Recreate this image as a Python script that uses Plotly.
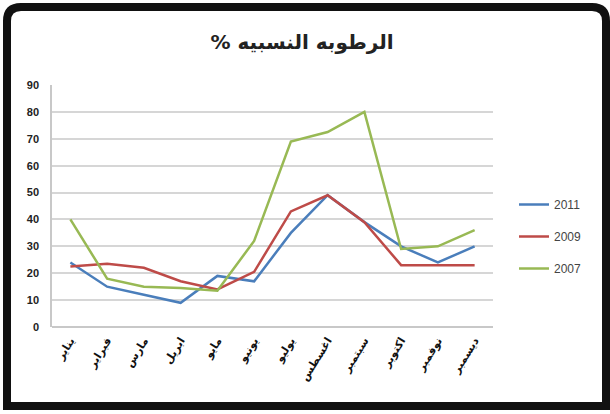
import plotly.graph_objects as go

# months (x categories)
months = ['يناير', 'فبراير', 'مارس', 'ابريل', 'مايو', 'يونيو',
          'يوليو', 'اغسطس', 'سبتمبر', 'اكتوبر', 'نوفمبر', 'ديسمبر']

# relative humidity % per year
h2011 = [24, 15, 12, 9, 19, 17, 35, 49, 39, 30, 24, 30]
h2009 = [22.5, 23.5, 22, 17, 14, 20.5, 43, 49, 39, 23, 23, 23]
h2007 = [40, 18, 15, 14.5, 13.5, 32, 69, 72.5, 80, 29, 30, 36]

y_ticks = [0, 10, 20, 30, 40, 50, 60, 70, 80, 90]

colors = {'2011': '#4a7ebb', '2009': '#be4b48', '2007': '#98b954'}

W, H = 610, 414
L, R, T, B = 52, 117, 85, 87


def px(x):
    # pixel x -> paper x
    return (x - L) / (W - L - R)


def py(y):
    # pixel y -> paper y
    return (H - B - y) / (H - T - B)


fig = go.Figure()
for name, vals in [('2011', h2011), ('2009', h2009), ('2007', h2007)]:
    fig.add_trace(go.Scatter(x=months, y=vals, name=name, mode='lines',
                             legendgroup=name,
                             line=dict(color=colors[name], width=2.5)))

# black frame around the chart (slightly rounded top corners)
x0, x1, y0, y1, r = 7, 606, 7, 406, 14
frame = (f"M {px(x0)},{py(y1)} L {px(x0)},{py(y0 + r)} "
         f"Q {px(x0)},{py(y0)} {px(x0 + r)},{py(y0)} "
         f"L {px(x1 - r)},{py(y0)} Q {px(x1)},{py(y0)} {px(x1)},{py(y0 + r)} "
         f"L {px(x1)},{py(y1)} Z")

fig.update_layout(
    width=W, height=H, autosize=False,
    margin=dict(l=L, r=R, t=T, b=B),
    paper_bgcolor='white', plot_bgcolor='white',
    font=dict(family='DejaVu Sans, Liberation Sans, Arial', color='#333333'),
    # RLM keeps the % sign on the left as in right-to-left text
    title=dict(text='<b>الرطوبه النسبيه %\u200f</b>', xref='container',
               x=302 / W, xanchor='center',
               y=1 - 42 / H, yanchor='middle',
               font=dict(size=20, color='#222222', family='DejaVu Sans')),
    xaxis=dict(showgrid=False, showline=False, zeroline=False,
               tickangle=-58, ticks='', range=[-0.5, 11.5],
               ticklabelstandoff=4,
               tickfont=dict(size=11, color='#111111', family='DejaVu Sans',
                             weight='bold')),
    yaxis=dict(range=[0, 90], tickvals=y_ticks, showgrid=True,
               gridcolor='#d6d6d6', gridwidth=1.5, zeroline=True,
               zerolinecolor='#c8c8c8', zerolinewidth=1.5,
               showline=True, linecolor='#c8c8c8', linewidth=1.5,
               ticks='', ticklabelstandoff=9,
               tickfont=dict(size=11, color='#222222', family='Liberation Sans',
                             weight='bold')),
    legend=dict(x=px(514), xanchor='left', y=py(190), yanchor='top',
                tracegroupgap=13, bgcolor='rgba(0,0,0,0)',
                font=dict(size=12, color='#444444', family='Liberation Sans')),
    shapes=[dict(type='path', xref='paper', yref='paper', path=frame,
                 line=dict(color='#111111', width=8), layer='above')],
)

fig.write_html("out.html", config={'displayModeBar': False},
               post_script="document.body.style.margin='0';")
